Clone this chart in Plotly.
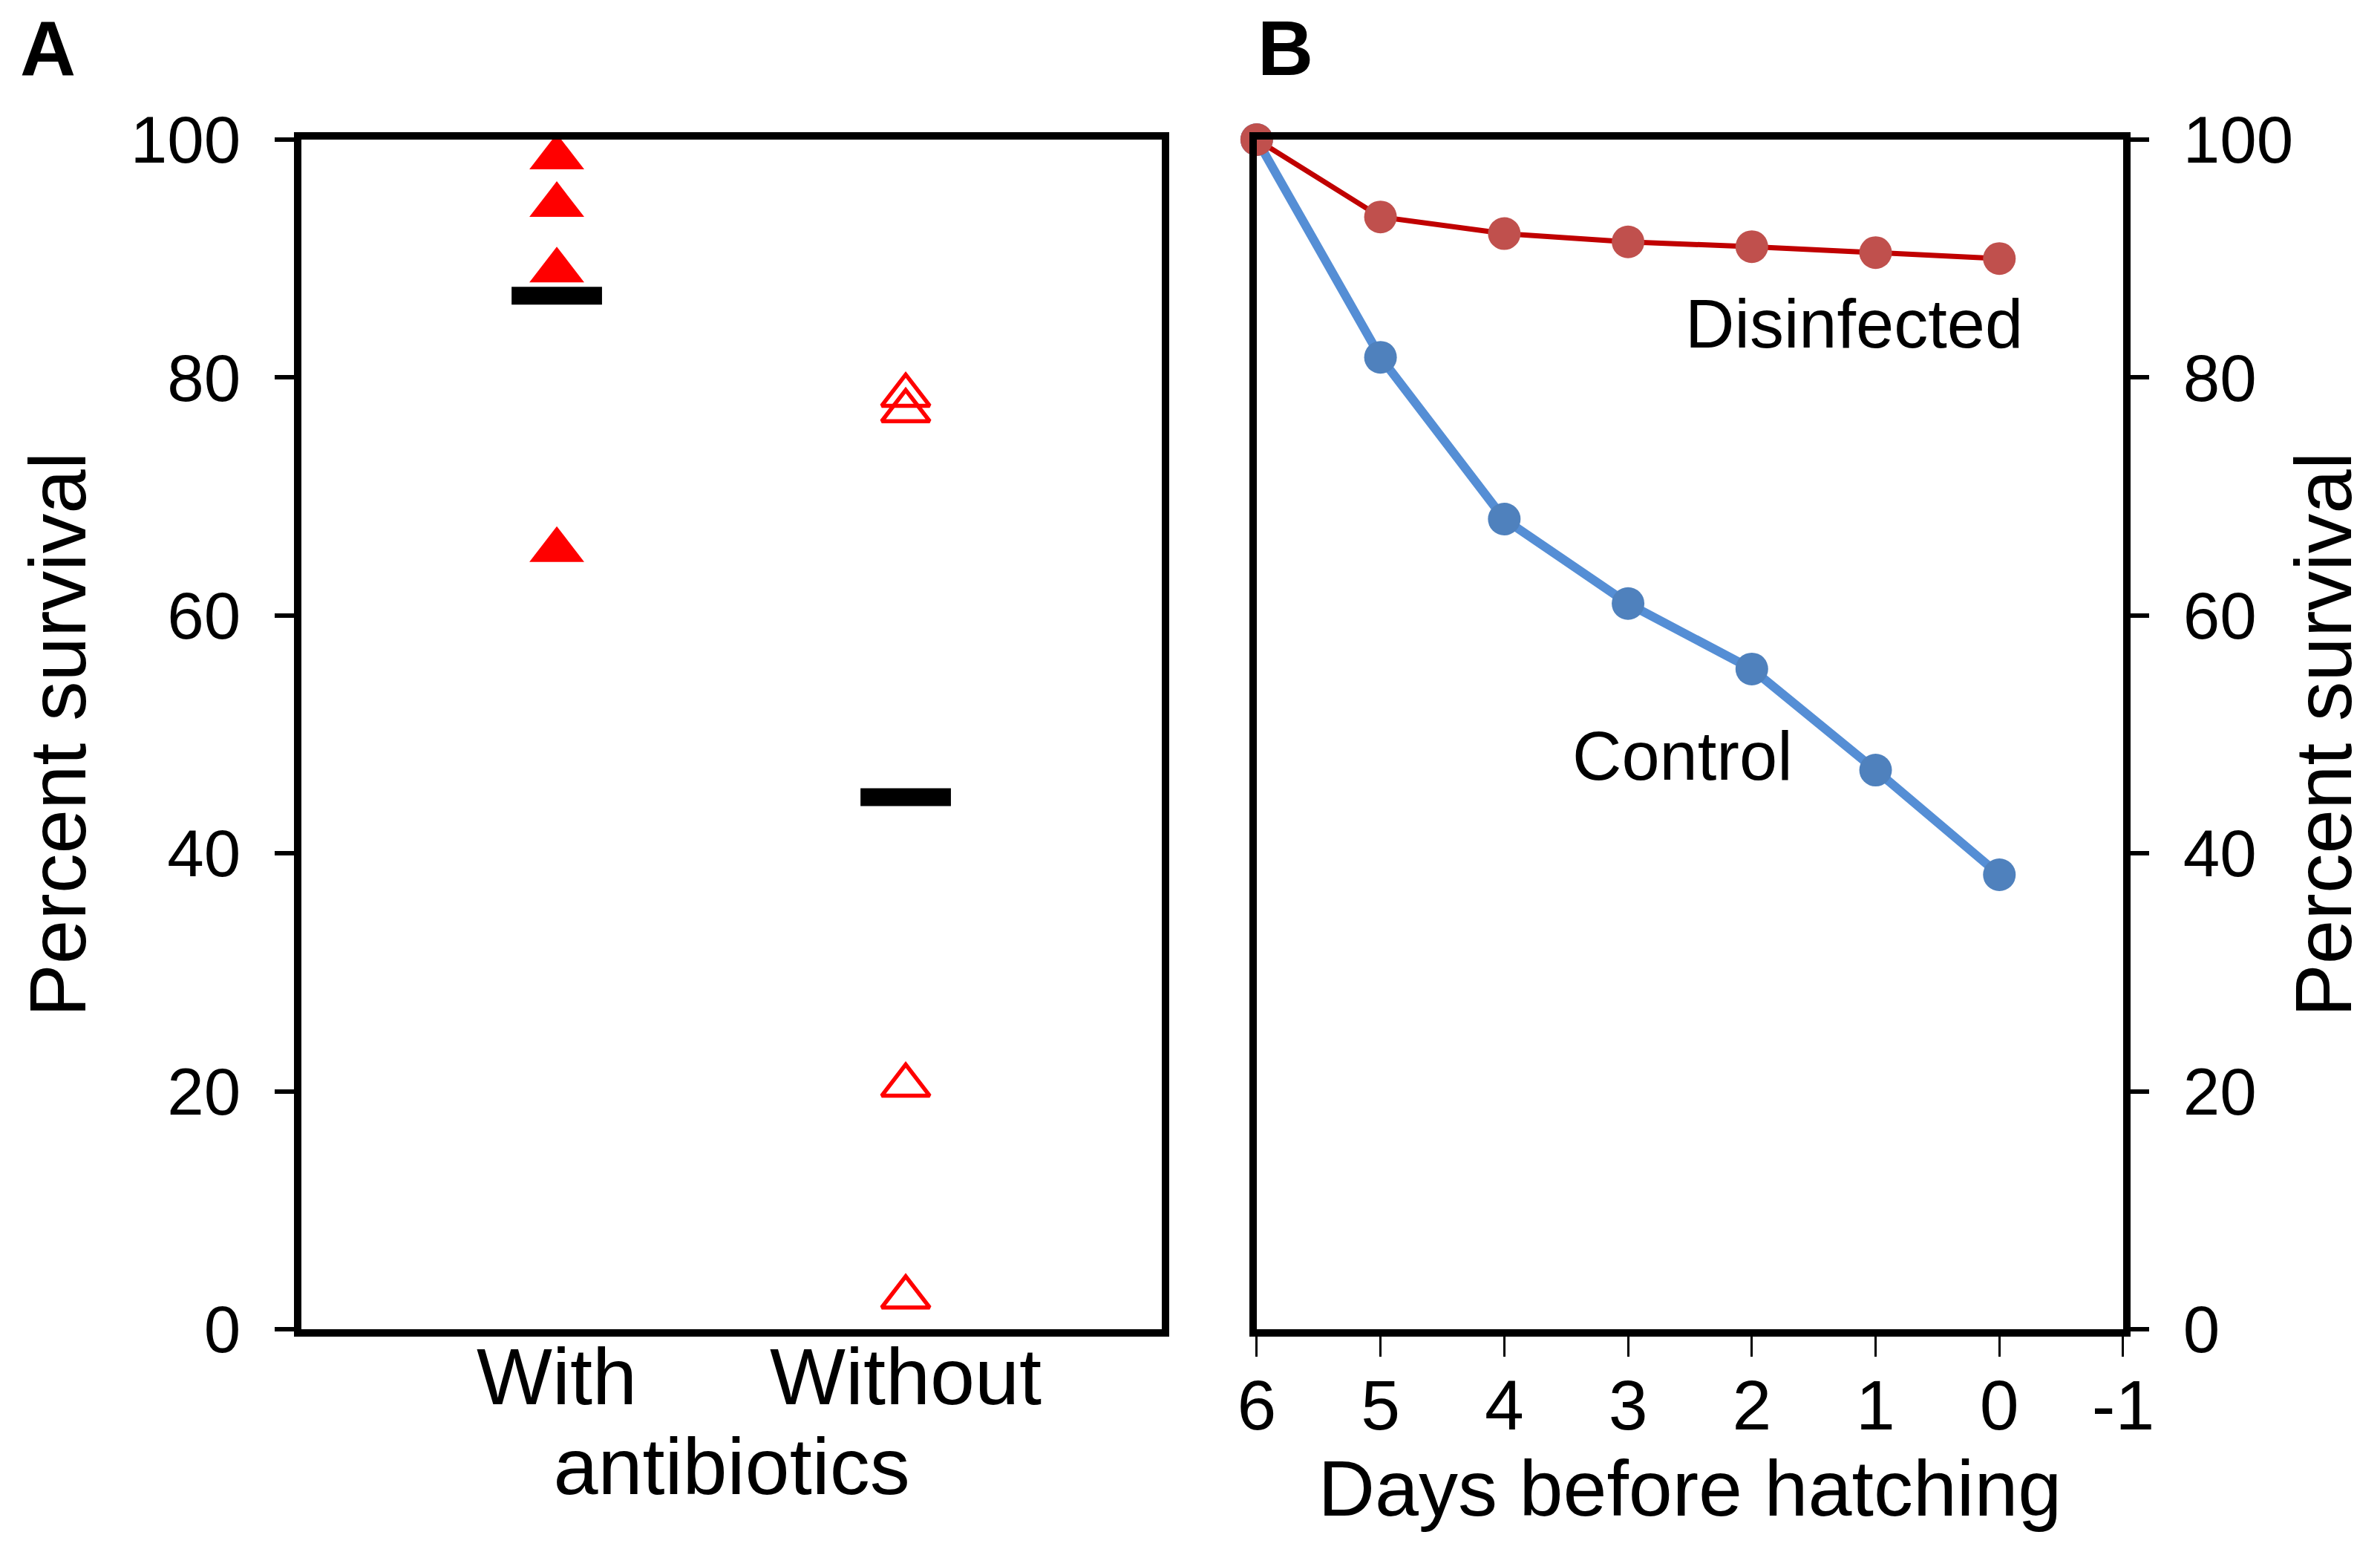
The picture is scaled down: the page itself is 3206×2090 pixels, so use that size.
"""
Embryo survival: antibiotics (A) and egg disinfection (B)
"""
import numpy as np
import plotly.graph_objects as go
from plotly.subplots import make_subplots

FONT = "Arial, Liberation Sans, sans-serif"

# panel A : percent survival, each point one clutch
groups = ["With", "Without"]
with_abx = [98.5, 94.5, 89.0, 65.5]
without_abx = [78.5, 77.2, 20.5, 2.7]

# panel B : survival over the last days before hatching
days = [6, 5, 4, 3, 2, 1, 0]
disinfected = [100, 93.5, 92.1, 91.4, 91.0, 90.5, 90.0]
control = [100, 81.7, 68.1, 61.0, 55.5, 47.0, 38.2]

day_ticks = [6, 5, 4, 3, 2, 1, 0, -1]
pct_ticks = [0, 20, 40, 60, 80, 100]

fig = make_subplots(rows=1, cols=2)

# --- A
fig.add_trace(
    go.Scatter(
        x=[1] * len(with_abx),
        y=with_abx,
        mode="markers",
        marker=dict(symbol="triangle-up", size=64, color="#FF0000"),
        cliponaxis=False,
    ),
    row=1, col=1,
)
fig.add_trace(
    go.Scatter(
        x=[2] * len(without_abx),
        y=without_abx,
        mode="markers",
        marker=dict(
            symbol="triangle-up-open", size=56, color="#FF0000",
            line=dict(width=5.5, color="#FF0000"),
        ),
        cliponaxis=False,
    ),
    row=1, col=1,
)
# mean bars
fig.add_trace(
    go.Scatter(
        x=[1, 2],
        y=[np.mean(with_abx), np.mean(without_abx)],
        mode="markers",
        marker=dict(symbol="line-ew", size=87, line=dict(width=24, color="black")),
        cliponaxis=False,
    ),
    row=1, col=1,
)

# --- B
fig.add_trace(
    go.Scatter(
        x=days,
        y=control,
        mode="lines+markers",
        line=dict(color="#558ED5", width=12),
        marker=dict(size=44, color="#4F81BD"),
        cliponaxis=False,
    ),
    row=1, col=2,
)
fig.add_trace(
    go.Scatter(
        x=days,
        y=disinfected,
        mode="lines+markers",
        line=dict(color="#C00000", width=7),
        marker=dict(size=44, color="#C0504D"),
        cliponaxis=False,
    ),
    row=1, col=2,
)

axis_common = dict(
    showline=True, linecolor="black", linewidth=10, mirror=True,
    showgrid=False, zeroline=False, automargin=False,
    tickcolor="black", tickfont=dict(size=89, color="black"),
)

fig.update_xaxes(
    axis_common,
    domain=[0, 0.4723],
    range=[0.268, 2.734],
    tickvals=[1, 2],
    ticktext=groups,
    ticks="",
    ticklabelstandoff=-39,
    tickfont=dict(size=108),
    title=dict(text="antibiotics", font=dict(size=108), standoff=20),
    row=1, col=1,
)
fig.update_yaxes(
    axis_common,
    range=[0, 100],
    tickvals=pct_ticks,
    ticks="outside", ticklen=26, tickwidth=6,
    ticklabelstandoff=28,
    title=dict(text="Percent survival", font=dict(size=107), standoff=28),
    row=1, col=1,
)
fig.update_xaxes(
    axis_common,
    domain=[0.5244, 1],
    range=[6, -1],
    tickvals=day_ticks,
    ticktext=[str(d) for d in day_ticks],
    ticks="outside", ticklen=27, tickwidth=3,
    ticklabelstandoff=-16,
    tickfont=dict(size=95),
    title=dict(text="Days before hatching", font=dict(size=106), standoff=20),
    row=1, col=2,
)
fig.update_yaxes(
    axis_common,
    side="right",
    range=[0, 100],
    tickvals=pct_ticks,
    ticks="outside", ticklen=25, tickwidth=6,
    ticklabelstandoff=28,
    title=dict(text="Percent survival", font=dict(size=107), standoff=8),
    row=1, col=2,
)

fig.add_annotation(x=-0.2, y=84.5, xref="x2", yref="y2", text="Disinfected",
                   showarrow=False, xanchor="right", font=dict(size=92))
fig.add_annotation(x=2.56, y=48.2, xref="x2", yref="y2", text="Control",
                   showarrow=False, xanchor="center", font=dict(size=92))
fig.add_annotation(x=-0.1553, y=1.114, xref="paper", yref="paper", text="<b>A</b>",
                   showarrow=False, xanchor="left", yanchor="top", font=dict(size=104))
fig.add_annotation(x=0.524, y=1.114, xref="paper", yref="paper", text="<b>B</b>",
                   showarrow=False, xanchor="left", yanchor="top", font=dict(size=104))

fig.update_layout(
    width=3206,
    height=2090,
    margin=dict(l=398, r=354, t=180, b=308),
    template="none",
    showlegend=False,
    plot_bgcolor="white",
    paper_bgcolor="white",
    font=dict(family=FONT, color="black"),
)

fig.write_html("out.html")
